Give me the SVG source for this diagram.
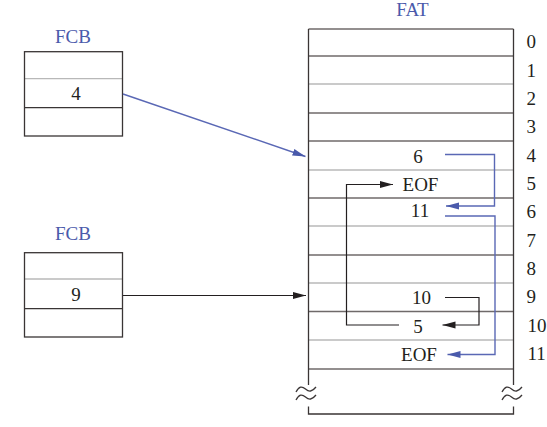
<svg xmlns="http://www.w3.org/2000/svg" width="547" height="427" viewBox="0 0 547 427">
<style>
.t{font-family:"Liberation Serif","Times New Roman",serif;font-size:19px;fill:#231f20}
.c{text-anchor:middle}
.b{fill:#4a5aab}
.dk{stroke:#6f6a6a;stroke-width:1.3;fill:none}
.lt{stroke:#b8b8b8;stroke-width:1.3;fill:none}
.edge{stroke:#3a3535;stroke-width:1.3;fill:none}
.bl{stroke:#5a68b5;stroke-width:1.4;fill:none}
.bk{stroke:#231f20;stroke-width:1.2;fill:none}
</style>
<defs>
<marker id="ab" markerWidth="14" markerHeight="8" refX="13" refY="4" orient="auto" markerUnits="userSpaceOnUse">
<path d="M0,0.5 L13,4 L0,7.5 Z" fill="#4a5aab"/>
</marker>
<marker id="ak" markerWidth="14" markerHeight="8" refX="13" refY="4" orient="auto" markerUnits="userSpaceOnUse">
<path d="M0,0.5 L13,4 L0,7.5 Z" fill="#231f20"/>
</marker>
</defs>
<rect width="547" height="427" fill="#fff"/>

<g id="fcb1">
<text class="t b c" x="73" y="42.5">FCB</text>
<line class="lt" x1="24.5" y1="78.7" x2="122.5" y2="78.7"/>
<line class="edge" x1="24.5" y1="107.7" x2="122.5" y2="107.7"/>
<rect class="edge" x="24.5" y="51.7" width="98" height="84.3"/>
<text class="t c" x="76" y="100">4</text>
</g>

<g id="fcb2">
<text class="t b c" x="73" y="240">FCB</text>
<line class="lt" x1="24.5" y1="279" x2="122.5" y2="279"/>
<line class="edge" x1="24.5" y1="308.7" x2="122.5" y2="308.7"/>
<rect class="edge" x="24.5" y="252.7" width="98" height="84.3"/>
<text class="t c" x="76" y="301">9</text>
</g>

<g id="fat">
<text class="t b c" x="412.5" y="15.5">FAT</text>
<line class="dk" x1="308.5" y1="29" x2="513.5" y2="29"/>
<line class="dk" x1="308.5" y1="56" x2="513.5" y2="56"/>
<line class="lt" x1="308.5" y1="84" x2="513.5" y2="84"/>
<line class="dk" x1="308.5" y1="113" x2="513.5" y2="113"/>
<line class="dk" x1="308.5" y1="141" x2="513.5" y2="141"/>
<line class="lt" x1="308.5" y1="170" x2="513.5" y2="170"/>
<line class="dk" x1="308.5" y1="198" x2="513.5" y2="198"/>
<line class="lt" x1="308.5" y1="226" x2="513.5" y2="226"/>
<line class="dk" x1="308.5" y1="255" x2="513.5" y2="255"/>
<line class="lt" x1="308.5" y1="283" x2="513.5" y2="283"/>
<line class="dk" x1="308.5" y1="311.5" x2="513.5" y2="311.5"/>
<line class="lt" x1="308.5" y1="340" x2="513.5" y2="340"/>
<line class="dk" x1="308.5" y1="369" x2="513.5" y2="369"/>
<line class="edge" x1="308.5" y1="29" x2="308.5" y2="385"/>
<line class="edge" x1="513.5" y1="29" x2="513.5" y2="385"/>
<path class="edge" d="M296,392 C299,386 302,386 305.5,389 C309,392 312,392 316,387"/>
<path class="edge" d="M296,400 C299,394 302,394 305.5,397 C309,400 312,400 316,395"/>
<path class="edge" d="M502,392 C505,386 508,386 511.5,389 C515,392 518,392 522,387"/>
<path class="edge" d="M502,400 C505,394 508,394 511.5,397 C515,400 518,400 522,395"/>
<path class="edge" d="M308.5,406.5 V414 H513.5 V406.5"/>
<text class="t" x="526.5" y="48.2">0</text>
<text class="t" x="526.5" y="76.5">1</text>
<text class="t" x="526.5" y="104.8">2</text>
<text class="t" x="526.5" y="133.2">3</text>
<text class="t" x="526.5" y="161.5">4</text>
<text class="t" x="526.5" y="189.8">5</text>
<text class="t" x="526.5" y="218.2">6</text>
<text class="t" x="526.5" y="246.5">7</text>
<text class="t" x="526.5" y="274.8">8</text>
<text class="t" x="526.5" y="303.2">9</text>
<text class="t" x="527.5" y="331.5">10</text>
<text class="t" x="527.5" y="359.8">11</text>
<text class="t c" x="418" y="162.5">6</text>
<text class="t c" x="420.5" y="190.7">EOF</text>
<text class="t c" x="420" y="217">11</text>
<text class="t c" x="421.5" y="304">10</text>
<text class="t c" x="418" y="332.5">5</text>
<text class="t c" x="419" y="360.5">EOF</text>
</g>

<g id="connectors">
<line class="bl" x1="123" y1="94" x2="305.5" y2="156.5" marker-end="url(#ab)"/>
<line class="bk" x1="123" y1="295.5" x2="306" y2="295.5" marker-end="url(#ak)"/>
<path class="bl" d="M445,154.5 H494.5 V206 H446" marker-end="url(#ab)"/>
<path class="bl" d="M445,216 H495 V354.5 H447.5" marker-end="url(#ab)"/>
<path class="bk" d="M445,297.5 H479 V325 H442.5" marker-end="url(#ak)"/>
<path class="bk" d="M399,325 H346.5 V184.5 H393" marker-end="url(#ak)"/>
</g>
</svg>
